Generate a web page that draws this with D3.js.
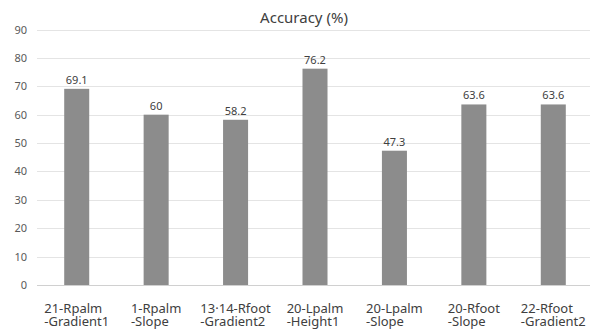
<!DOCTYPE html>
<html>
<head>
<meta charset="utf-8">
<script src="https://cdn.jsdelivr.net/npm/d3@7"></script>
<style>
  html, body { margin: 0; padding: 0; background: #fff; }
  svg { display: block; font-family: "Noto Sans", "Open Sans", sans-serif; }
</style>
</head>
<body>
<svg id="chart" width="590" height="329"></svg>
<script>
// Category labels (two lines each) and accuracy values
const categoryLine1 = ["21-Rpalm", "1-Rpalm", "13\u00b714-Rfoot", "20-Lpalm", "20-Lpalm", "20-Rfoot", "22-Rfoot"];
const categoryLine2 = ["-Gradient1", "-Slope", "-Gradient2", "-Height1", "-Slope", "-Slope", "-Gradient2"];
const accuracy = [69.1, 60, 58.2, 76.2, 47.3, 63.6, 63.6];
const yTicks = [0, 10, 20, 30, 40, 50, 60, 70, 80, 90];
const chartTitle = "Accuracy (%)";

const svg = d3.select("#chart");
const plotLeft = 37, plotRight = 593, plotTop = 29.5, plotBottom = 285;

const x = d3.scaleBand()
  .domain(d3.range(accuracy.length))
  .range([plotLeft, plotRight])
  .paddingInner(0.685)
  .paddingOuter(0.3425);

const y = d3.scaleLinear().domain([0, 90]).range([plotBottom, plotTop]);

// Horizontal gridlines
svg.append("g")
  .selectAll("line")
  .data(yTicks)
  .join("line")
  .attr("x1", plotLeft).attr("x2", 590)
  .attr("y1", d => Math.round(y(d)) + 0.5)
  .attr("y2", d => Math.round(y(d)) + 0.5)
  .attr("stroke", d => d === 0 ? "#d0d0d0" : "#e4e4e4")
  .attr("stroke-width", 1);

// Y axis tick labels
const yAxis = d3.axisLeft(y).tickValues(yTicks).tickSize(0).tickPadding(0);
const yg = svg.append("g").attr("transform", `translate(${plotLeft - 10},0)`).call(yAxis);
yg.select(".domain").remove();
yg.selectAll("text")
  .attr("font-size", 11)
  .attr("font-family", "\"Noto Sans\", sans-serif")
  .attr("fill", "#595959");

// Bars
svg.append("g")
  .selectAll("rect")
  .data(accuracy)
  .join("rect")
  .attr("x", (d, i) => x(i))
  .attr("width", x.bandwidth())
  .attr("y", d => y(d))
  .attr("height", d => y(0) - y(d))
  .attr("fill", "#8c8c8c");

// Value labels
svg.append("g")
  .selectAll("text")
  .data(accuracy)
  .join("text")
  .attr("x", (d, i) => x(i) + x.bandwidth() / 2)
  .attr("y", d => y(d) - 5)
  .attr("text-anchor", "middle")
  .attr("font-size", 11)
  .attr("fill", "#404040")
  .text(d => d);

// Category labels: two left-aligned lines, block centered under the bar
const cat = svg.append("g");
accuracy.forEach((d, i) => {
  const cx = x(i) + x.bandwidth() / 2;
  const lines = [categoryLine1[i], categoryLine2[i]].map((s, k) =>
    cat.append("text")
      .attr("y", k === 0 ? 313 : 326)
      .attr("font-size", 13)
      .attr("fill", "#404040")
      .text(s));
  const w = d3.max(lines, t => t.node().getComputedTextLength());
  lines.forEach(t => t.attr("x", cx - w / 2));
});

// Title
svg.append("text")
  .attr("x", 304)
  .attr("y", 23)
  .attr("text-anchor", "middle")
  .attr("font-size", 15)
  .attr("fill", "#404040")
  .text(chartTitle);
</script>
</body>
</html>
